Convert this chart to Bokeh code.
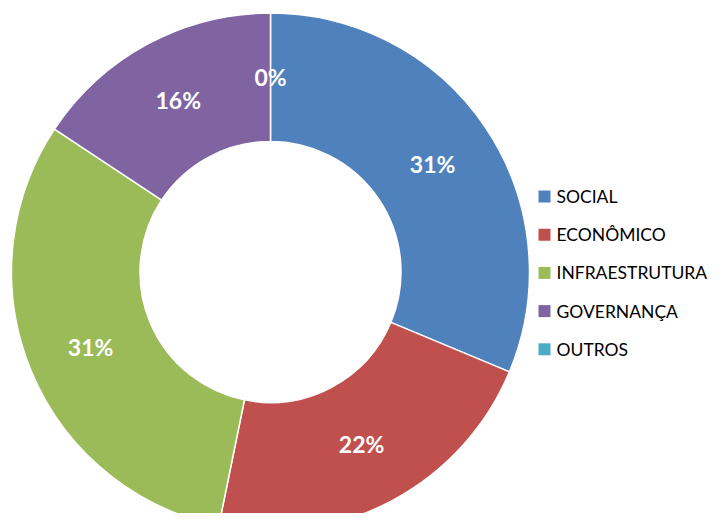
import math
from bokeh.plotting import figure
from bokeh.models import Range1d, ColumnDataSource
from bokeh.core.properties import value
from bokeh.embed import file_html
from bokeh.resources import INLINE

categories = ["SOCIAL", "ECONÔMICO", "INFRAESTRUTURA", "GOVERNANÇA", "OUTROS"]
values = [31.3, 21.9, 31.1, 15.7, 0.0]
colors = ["#4F81BD", "#C0504D", "#9BBB59", "#8064A2", "#4BACC6"]

W, H = 709, 513
REF_H = 529
p = figure(width=W, height=H, output_backend="svg", toolbar_location=None,
           x_range=Range1d(0, W), y_range=Range1d(REF_H - H, REF_H),
           min_border=0)
p.axis.visible = False
p.grid.visible = False
p.outline_line_color = None
p.background_fill_color = "white"
p.border_fill_color = "white"

cx, cy = 270, REF_H - 271.5
r_out, r_in = 259, 130.5
total = sum(values)
starts, ends, wcolors, lx, ly, labels = [], [], [], [], [], []
cum = 0.0
for v, c in zip(values, colors):
    f0 = cum / total
    cum += v
    f1 = cum / total
    if v > 0:
        starts.append(math.pi / 2 - 2 * math.pi * f0)
        ends.append(math.pi / 2 - 2 * math.pi * f1)
        wcolors.append(c)
    mid = (f0 + f1) / 2
    rm = (r_out + r_in) / 2
    lx.append(cx + rm * math.sin(2 * math.pi * mid))
    ly.append(cy + rm * math.cos(2 * math.pi * mid))
    labels.append(f"{round(v / total * 100)}%")

wsrc = ColumnDataSource(dict(start=starts, end=ends, color=wcolors))
p.annular_wedge(x=cx, y=cy, inner_radius=r_in, outer_radius=r_out,
                start_angle="start", end_angle="end", direction="clock",
                fill_color="color", line_color="white", line_width=1.5,
                source=wsrc)
lsrc_lab = ColumnDataSource(dict(lx=lx, ly=ly, label=labels))
p.text(x="lx", y="ly", text="label", source=lsrc_lab, text_color="white",
       text_font=value("Lato"), text_font_style="bold",
       text_font_size="23px", text_align="center", text_baseline="middle")

# legend
leg_x = 544
leg_y0 = REF_H - 196
step = 38.2
ys = [leg_y0 - i * step for i in range(len(categories))]
lsrc = ColumnDataSource(dict(x=[leg_x] * len(categories), y=ys,
                             tx=[leg_x + 12] * len(categories),
                             name=categories, color=colors))
p.rect(x="x", y="y", width=12, height=12, fill_color="color",
       line_color=None, source=lsrc)
p.text(x="tx", y="y", text="name", source=lsrc, text_color="black",
       text_font=value("Lato"), text_font_size="17.5px",
       text_align="left", text_baseline="middle")

open("out.html", "w").write(file_html(p, INLINE))
